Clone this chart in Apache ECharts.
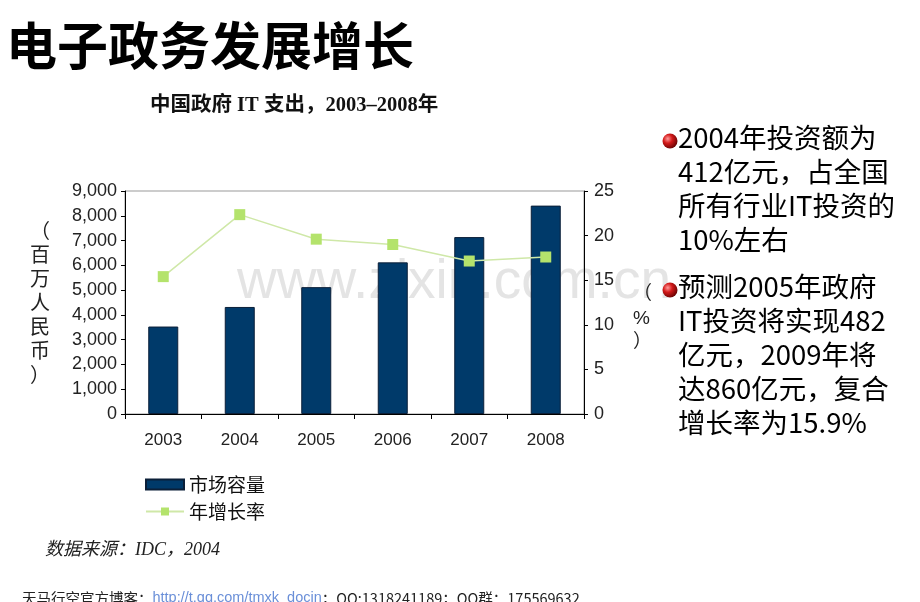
<!DOCTYPE html>
<html><head><meta charset="utf-8">
<script src="https://cdn.jsdelivr.net/npm/echarts@6/dist/echarts.min.js"></script>
<style>html,body{margin:0;padding:0;background:#fff}#c{width:920px;height:602px}</style>
</head><body><div id="c"></div>
<script>
const categories = ['2003','2004','2005','2006','2007','2008'];
const marketSize = [3530, 4320, 5120, 6120, 7140, 8410];
const growthRate = [15.4, 22.35, 19.6, 19.0, 17.15, 17.6];
const leftTicks = {min:0, max:9000, interval:1000};
const rightTicks = {min:0, max:25, interval:5};
const seriesNames = ['市场容量','年增长率'];

const sans = '"Noto Sans CJK SC", "Noto Sans", sans-serif';
const axisFont = '"Liberation Sans", Arial, "Noto Sans CJK SC", sans-serif';

const chart = echarts.init(document.getElementById('c'));
chart.setOption({
  animation:false,
  backgroundColor:'#fff',
  grid:{left:125, top:191, width:459, height:223, show:true, borderColor:'#999', borderWidth:1, backgroundColor:'transparent'},
  legend:{
    orient:'vertical', left:140, top:470, itemGap:8, itemWidth:38, itemHeight:10,
    textStyle:{fontSize:19, color:'#111', fontFamily:sans},
    data:[{name:seriesNames[0], icon:'rect'}, {name:seriesNames[1]}]
  },
  xAxis:{
    type:'category', data:categories,
    axisLine:{lineStyle:{color:'#000', width:1}},
    axisTick:{show:true, alignWithLabel:false, length:5, lineStyle:{color:'#000'}},
    axisLabel:{fontSize:17, color:'#222', margin:18, fontFamily:axisFont}
  },
  yAxis:[{
    type:'value', min:leftTicks.min, max:leftTicks.max, interval:leftTicks.interval, position:'left',
    axisLine:{show:true, lineStyle:{color:'#000'}},
    axisTick:{show:true, length:4, lineStyle:{color:'#000'}},
    splitLine:{show:false},
    axisLabel:{fontSize:18, color:'#222', margin:8, fontFamily:axisFont,
      formatter:v=>v.toLocaleString('en-US')}
  },{
    type:'value', min:rightTicks.min, max:rightTicks.max, interval:rightTicks.interval, position:'right',
    axisLine:{show:true, lineStyle:{color:'#000'}},
    axisTick:{show:true, length:4, lineStyle:{color:'#000'}},
    splitLine:{show:false},
    axisLabel:{fontSize:18, color:'#222', margin:10, fontFamily:axisFont}
  }],
  series:[{
    name:seriesNames[0], type:'bar', data:marketSize, barWidth:30, yAxisIndex:0, z:2,
    itemStyle:{color:'#003a6a', borderColor:'#0b1f38', borderWidth:1}
  },{
    name:seriesNames[1], type:'line', data:growthRate, yAxisIndex:1, z:3,
    symbol:'rect', symbolSize:11,
    lineStyle:{color:'#cfe8a8', width:1.5},
    itemStyle:{color:'#b4e36c'}
  }],
  graphic:[
    {type:'text', z:-10, left:237, top:255, style:{text:'www.zixin.com.cn', fontSize:55, fontFamily:'"Liberation Sans", Arial, sans-serif', fill:'#e4e4e4'}},
    {type:'text', left:6, top:20, style:{text:'电子政务发展增长', fontSize:51, fontWeight:'bold', fontFamily:sans, fill:'#000'}},
    {type:'text', left:150, top:95, style:{text:'中国政府 IT 支出，2003–2008年', fontSize:20.5, fontWeight:'bold', fontFamily:'"Liberation Serif", "Noto Sans CJK SC", serif', fill:'#111'}},
    {type:'text', left:30, top:218, style:{text:'（\n百\n万\n人\n民\n币\n）', fontSize:20, lineHeight:24, fontFamily:sans, fill:'#222', align:'left'}},
    {type:'text', left:633, top:283, style:{text:'（\n%\n）', fontSize:19, lineHeight:24, fontFamily:axisFont, fill:'#222'}},
    {type:'circle', shape:{cx:670, cy:141, r:7.5}, style:{fill:{type:'radial', x:0.35, y:0.35, r:0.75, colorStops:[{offset:0,color:'#ff9a9a'},{offset:0.4,color:'#d41a1a'},{offset:1,color:'#5a0000'}]}}},
    {type:'circle', shape:{cx:670, cy:290, r:7.5}, style:{fill:{type:'radial', x:0.35, y:0.35, r:0.75, colorStops:[{offset:0,color:'#ff9a9a'},{offset:0.4,color:'#d41a1a'},{offset:1,color:'#5a0000'}]}}},
    {type:'text', left:678, top:121, style:{text:'2004年投资额为\n412亿元，占全国\n所有行业IT投资的\n10%左右', fontSize:27.5, lineHeight:34, fontFamily:sans, fill:'#000'}},
    {type:'text', left:678, top:270, style:{text:'预测2005年政府\nIT投资将实现482\n亿元，2009年将\n达860亿元，复合\n增长率为15.9%', fontSize:27.5, lineHeight:34, fontFamily:sans, fill:'#000'}},
    {type:'text', left:45, top:541, style:{text:'数据来源：IDC，2004', fontSize:18, fontStyle:'italic', fontFamily:'"Liberation Serif", "Noto Sans CJK SC", serif', fill:'#222'}},
    {type:'text', left:22, top:591, style:{text:'{a|天马行空官方博客：}{b|http://t.qq.com/tmxk_docin}{a|；QQ:1318241189；QQ群：175569632}', rich:{a:{fontSize:14.5, fill:'#222', fontFamily:sans},b:{fontSize:14.5, fill:'#6a8fd8', fontFamily:axisFont}}}}
  ]
});
</script></body></html>
